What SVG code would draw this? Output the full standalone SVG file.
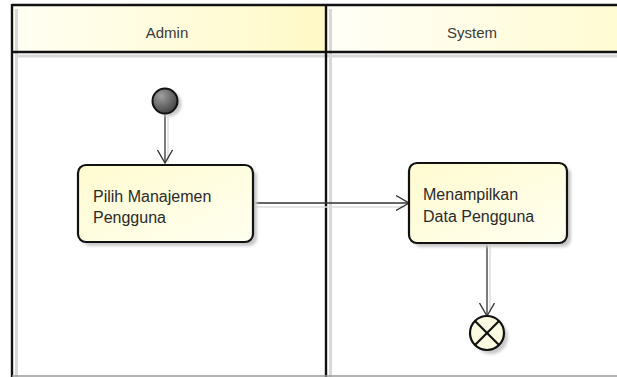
<svg xmlns="http://www.w3.org/2000/svg" width="617" height="377" viewBox="0 0 617 377">
  <defs>
    <linearGradient id="hdrAdmin" x1="0" y1="0" x2="1" y2="0">
      <stop offset="0" stop-color="#fffff4"/>
      <stop offset="1" stop-color="#fff9c6"/>
    </linearGradient>
    <linearGradient id="hdrSystem" x1="0" y1="0" x2="1" y2="0">
      <stop offset="0" stop-color="#fffff8"/>
      <stop offset="1" stop-color="#fffbd2"/>
    </linearGradient>
    <linearGradient id="actFill" x1="0" y1="0" x2="1" y2="1">
      <stop offset="0" stop-color="#fffbd0"/>
      <stop offset="1" stop-color="#fffff0"/>
    </linearGradient>
    <radialGradient id="startFill" cx="0.35" cy="0.3" r="0.8">
      <stop offset="0" stop-color="#a0a0a0"/>
      <stop offset="1" stop-color="#3a3a3a"/>
    </radialGradient>
    <filter id="soft" x="-20%" y="-20%" width="140%" height="140%">
      <feGaussianBlur stdDeviation="1.6"/>
    </filter>
    <marker id="open" viewBox="0 0 14 16" refX="13" refY="8" markerWidth="14" markerHeight="16" markerUnits="userSpaceOnUse" orient="auto">
      <path d="M0,0.5 L13,8 L0,15.5" fill="none" stroke="#333" stroke-width="1.3"/>
    </marker>
  </defs>
  <style>
    .lane { stroke: #111; stroke-width: 2.4; fill: none; }
    .laneShadow { stroke: #d8d8d8; stroke-width: 3; fill: none; }
    .hdr { font-family: "Liberation Sans", Arial, sans-serif; font-size: 15px; fill: #3a3a3a; text-anchor: middle; }
    .label { font-family: "Liberation Sans", Arial, sans-serif; font-size: 16px; fill: #2a2a2a; }
    .act { fill: url(#actFill); stroke: #111; stroke-width: 2.2; }
    .shadow { fill: #c8c8c8; filter: url(#soft); }
    .flow { stroke: #333; stroke-width: 1.3; fill: none; marker-end: url(#open); }
    .flowShadow { stroke: #dcdcdc; stroke-width: 1.5; fill: none; }
  </style>

  <rect width="617" height="377" fill="#ffffff"/>

  <!-- swimlanes -->
  <g id="lanes">
    <rect x="12" y="5" width="314" height="47" fill="url(#hdrAdmin)"/>
    <rect x="326" y="5" width="291" height="47" fill="url(#hdrSystem)"/>
    <line class="laneShadow" x1="16" y1="56" x2="617" y2="56"/>
    <line class="laneShadow" x1="16.5" y1="9" x2="16.5" y2="377"/>
    <line class="laneShadow" x1="330.5" y1="9" x2="330.5" y2="377"/>
    <line class="lane" x1="12" y1="5" x2="617" y2="5"/>
    <line class="lane" x1="12" y1="52" x2="617" y2="52"/>
    <line class="lane" x1="12" y1="4" x2="12" y2="377"/>
    <line class="lane" x1="326" y1="4" x2="326" y2="377"/>
    <line x1="12" y1="376" x2="617" y2="376" stroke="#9a9a9a" stroke-width="1.5"/>
    <text class="hdr" x="167" y="38">Admin</text>
    <text class="hdr" x="472" y="38">System</text>
  </g>

  <!-- connectors -->
  <g id="connectors">
    <line class="flowShadow" x1="168" y1="117" x2="168" y2="162"/>
    <line class="flowShadow" x1="255" y1="207" x2="405" y2="207"/>
    <line class="flowShadow" x1="490" y1="246" x2="490" y2="312"/>
    <line class="flow" x1="165" y1="114" x2="165" y2="163"/>
    <line class="flow" x1="254" y1="203" x2="409" y2="203"/>
    <line class="flow" x1="487" y1="244" x2="487" y2="316"/>
  </g>

  <!-- initial node -->
  <g id="start">
    <circle class="shadow" cx="169" cy="104" r="12.5"/>
    <circle cx="165" cy="101" r="12.5" fill="url(#startFill)" stroke="#111" stroke-width="2"/>
  </g>

  <!-- activity: Pilih Manajemen Pengguna -->
  <g id="pilih-manajemen">
    <rect class="shadow" x="82" y="169" width="175" height="77" rx="8"/>
    <rect class="act" x="78" y="165" width="175" height="77" rx="8"/>
    <text class="label" x="93" y="202">Pilih Manajemen</text>
    <text class="label" x="93" y="223">Pengguna</text>
  </g>

  <!-- activity: Menampilkan Data Pengguna -->
  <g id="menampilkan-data">
    <rect class="shadow" x="413" y="167" width="158" height="80" rx="8"/>
    <rect class="act" x="409" y="163" width="158" height="80" rx="8"/>
    <text class="label" x="423" y="200">Menampilkan</text>
    <text class="label" x="423" y="222">Data Pengguna</text>
  </g>

  <!-- final node -->
  <g id="end">
    <circle class="shadow" cx="491" cy="337" r="17"/>
    <circle cx="487" cy="333" r="17" fill="#fbfbe2" stroke="#111" stroke-width="2.2"/>
    <line x1="475" y1="321" x2="499" y2="345" stroke="#111" stroke-width="2.2"/>
    <line x1="499" y1="321" x2="475" y2="345" stroke="#111" stroke-width="2.2"/>
  </g>
</svg>
